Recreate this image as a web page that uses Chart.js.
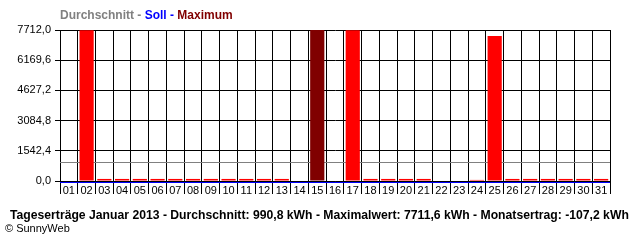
<!DOCTYPE html>
<html>
<head>
    <title>Tageserträge Januar 2013</title>
    <script src="https://cdn.jsdelivr.net/npm/chart.js"></script>
    <style>
        body { margin: 0; background: #fff; }
    </style>
</head>
<body>
    <canvas id="ertragChart" width="640" height="240"></canvas>

    <script>
        // Tage und Erträge (kWh)
        var tage = ['01','02','03','04','05','06','07','08','09','10','11','12','13','14','15','16',
                    '17','18','19','20','21','22','23','24','25','26','27','28','29','30','31'];
        var ertraege = [0, 7700, 105, 105, 105, 105, 105, 105, 105, 105, 105, 105, 105, 0, 7711.6, 0,
                        7705, 105, 105, 105, 105, 0, 0, 55, 7400, 105, 105, 105, 105, 105, 105];
        var yTicks = [0, 1542.4, 3084.8, 4627.2, 6169.6, 7712.0];
        var durchschnitt = 990.8;
        var soll = 0;

        var maxWert = Math.max.apply(null, ertraege);
        var farben = ertraege.map(function (v) { return v === maxWert ? '#800000' : '#ff0000'; });

        // Linien (Durchschnitt, Soll) und Texte
        var extras = {
            id: 'extras',
            beforeDatasetsDraw: function (chart) {
                var ctx = chart.ctx, a = chart.chartArea, y = chart.scales.y;
                ctx.save();
                ctx.lineWidth = 1;
                ctx.strokeStyle = '#808080';
                var py = Math.round(y.getPixelForValue(durchschnitt)) + 0.5;
                ctx.beginPath(); ctx.moveTo(a.left, py); ctx.lineTo(a.right, py); ctx.stroke();
                ctx.restore();
            },
            afterDatasetsDraw: function (chart) {
                var ctx = chart.ctx, a = chart.chartArea, y = chart.scales.y;
                ctx.save();
                ctx.lineWidth = 1;
                ctx.strokeStyle = '#0000ff';
                var py = Math.round(y.getPixelForValue(soll)) + 1.5;
                ctx.beginPath(); ctx.moveTo(a.left, py); ctx.lineTo(a.right, py); ctx.stroke();
                ctx.restore();
            },
            afterDraw: function (chart) {
                var ctx = chart.ctx;
                ctx.save();
                ctx.textBaseline = 'middle';
                ctx.textAlign = 'left';
                ctx.font = 'bold 12px "Liberation Sans"';
                var teile = [['Durchschnitt - ', '#808080'], ['Soll - ', '#0000ff'], ['Maximum', '#800000']];
                var x = 60;
                teile.forEach(function (t) {
                    ctx.fillStyle = t[1];
                    ctx.fillText(t[0], x, 16);
                    x += ctx.measureText(t[0]).width;
                });
                ctx.fillStyle = '#000';
                ctx.font = 'bold 12.2px "Liberation Sans"';
                ctx.fillText('Tageserträge Januar 2013 - Durchschnitt: 990,8 kWh - Maximalwert: 7711,6 kWh - Monatsertrag: -107,2 kWh', 10, 216);
                ctx.font = '11px "Liberation Sans"';
                ctx.fillText('© SunnyWeb', 5, 229);
                ctx.restore();
            }
        };

        var ctx = document.getElementById('ertragChart').getContext('2d');
        var chart = new Chart(ctx, {
            type: 'bar',
            data: {
                labels: tage,
                datasets: [{
                    data: ertraege,
                    backgroundColor: farben,
                    borderWidth: 0,
                    barPercentage: 0.8,
                    categoryPercentage: 1.0
                }]
            },
            options: {
                responsive: false,
                animation: false,
                layout: { padding: { top: 30, right: 30, left: 0, bottom: 0 } },
                plugins: {
                    legend: { display: false },
                    tooltip: { enabled: false }
                },
                scales: {
                    x: {
                        grid: { color: '#000', lineWidth: 1, offset: true, tickLength: 13 },
                        border: { color: '#000' },
                        ticks: {
                            color: '#000', padding: -10, maxRotation: 0, autoSkip: false,
                            font: { family: 'Liberation Sans', size: 11 }
                        },
                        afterFit: function (s) { s.height = 59; }
                    },
                    y: {
                        min: 0,
                        max: 7712,
                        grid: { color: '#000', lineWidth: 1, tickLength: 5 },
                        border: { color: '#000' },
                        afterBuildTicks: function (s) {
                            s.ticks = yTicks.map(function (v) { return { value: v }; });
                        },
                        ticks: {
                            color: '#000', padding: 4,
                            font: { family: 'Liberation Sans', size: 11 },
                            callback: function (v) { return v.toFixed(1).replace('.', ','); }
                        },
                        afterFit: function (s) { s.width = 60; }
                    }
                }
            },
            plugins: [extras]
        });
    </script>
</body>
</html>
